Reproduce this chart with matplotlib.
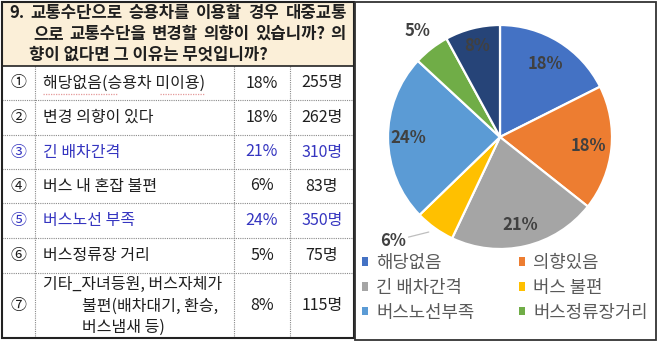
import matplotlib
matplotlib.use('Agg')
import numpy as np
import matplotlib.pyplot as plt
from matplotlib.patches import Rectangle, Patch

plt.rcParams['font.family'] = ['Noto Sans CJK KR', 'DejaVu Sans']

# ---------------- data ----------------
question_lines = ["9. 교통수단으로 승용차를 이용할 경우 대중교통",
                  "으로 교통수단을 변경할 의향이 있습니까? 의",
                  "향이 없다면 그 이유는 무엇입니까?"]
row_nums = ["①", "②", "③", "④", "⑤", "⑥", "⑦"]
row_labels = ["해당없음(승용차 미이용)", "변경 의향이 있다", "긴 배차간격",
              "버스 내 혼잡 불편", "버스노선 부족", "버스정류장 거리",
              ["기타_자녀등원, 버스자체가", "불편(배차대기, 환승,", "버스냄새 등)"]]
row_pcts = ["18%", "18%", "21%", "6%", "24%", "5%", "8%"]
counts = [255, 262, 310, 83, 350, 75, 115]
highlight = [False, False, True, False, True, False, False]

pie_labels = ["해당없음", "의향있음", "긴 배차간격", "버스 불편",
              "버스노선부족", "버스정류장거리", "기타"]
pie_colors = ["#4472C4", "#ED7D31", "#A5A5A5", "#FFC000",
              "#5B9BD5", "#70AD47", "#264478"]

# ---------------- layout (pixels) ----------------
W, H = 658, 342
row_edges = [66, 100, 135, 169, 203, 238, 273, 338]
col_edges = [2, 35, 234, 290, 354]

fig = plt.figure(figsize=(W / 100, H / 100), dpi=100)
fig.patch.set_facecolor('white')
renderer = fig.canvas.get_renderer()

# table axes in pixel coordinates (y downward)
ax = fig.add_axes([0, 0, 1, 1])
ax.set_xlim(0, W)
ax.set_ylim(H, 0)
ax.axis('off')

BLACK = '#1f1f1f'
BLUE = '#3535C0'
FS = 11.5

# header background
ax.add_patch(Rectangle((col_edges[0], 2), col_edges[-1] - col_edges[0], row_edges[0] - 2,
                       facecolor='#FBEFD8', edgecolor='none', zorder=0))
hx = [9, 33, 29]
hright = [347, 346, None]
hy = [13, 34, 55]
for t, x, xr, y in zip(question_lines, hx, hright, hy):
    kw = dict(fontsize=12, fontweight='bold', color=BLACK, ha='left', va='center')
    if xr is None:
        ax.text(x, y, t, **kw)
        continue
    words = t.split(' ')
    objs = [ax.text(x, y, wd, **kw) for wd in words]
    widths = [o.get_window_extent(renderer).width for o in objs]
    gap = (xr - x - sum(widths)) / (len(words) - 1)
    pos = x
    for o, wdt in zip(objs, widths):
        o.set_x(pos)
        pos += wdt + gap

# grid lines (dotted)
dot = dict(color='#8a8a8a', lw=0.8, linestyle=(0, (1, 1)))
for y in row_edges[1:-1]:
    ax.plot([col_edges[0], col_edges[-1]], [y, y], **dot)
for x in col_edges[1:-1]:
    ax.plot([x, x], [row_edges[0], row_edges[-1]], **dot)
ax.plot([col_edges[0], col_edges[-1]], [row_edges[0], row_edges[0]], color='#222222', lw=1.2)
# outer border of table
ax.add_patch(Rectangle((col_edges[0], 2), col_edges[-1] - col_edges[0], row_edges[-1] - 2,
                       facecolor='none', edgecolor='#222222', lw=1.5, zorder=3))

# rows
for i in range(len(row_nums)):
    y0, y1 = row_edges[i], row_edges[i + 1]
    yc = (y0 + y1) / 2
    c = BLUE if highlight[i] else BLACK
    ax.text((col_edges[0] + col_edges[1]) / 2, yc, row_nums[i], fontsize=FS,
            color=c, ha='center', va='center')
    lab = row_labels[i]
    if isinstance(lab, list):
        lys = [284, 306, 327]
        lxs = [43, 82, 82]
        for t, lx, ly in zip(lab, lxs, lys):
            ax.text(lx, ly, t, fontsize=FS, color=c, ha='left', va='center')
    else:
        ax.text(43, yc, lab, fontsize=FS, color=c, ha='left', va='center')
    ax.text((col_edges[2] + col_edges[3]) / 2, yc, row_pcts[i], fontsize=FS,
            color=c, ha='center', va='center')
    ax.text((col_edges[3] + col_edges[4]) / 2, yc, f"{counts[i]}명", fontsize=FS,
            color=c, ha='center', va='center')

# spell-check squiggles in row 1
sq = dict(color='#E59A9A', lw=0.9, linestyle=(0, (1, 1)))
ax.plot([43, 118], [94, 94], **sq)
ax.plot([160, 205], [94, 94], **sq)

# pie frame
ax.add_patch(Rectangle((355, 2), 301, 338, facecolor='none',
                       edgecolor='#333333', lw=1.3, zorder=3))

# ---------------- pie ----------------
axp = fig.add_axes([0, 0, 1, 1])
axp.patch.set_alpha(0)
cx, cy, R = 500, -137, 112
wedges, texts, autotexts = axp.pie(
    counts, colors=pie_colors, startangle=90, counterclock=False,
    center=(cx, cy), radius=R, autopct='%1.0f%%', pctdistance=0.8,
    wedgeprops=dict(edgecolor='white', linewidth=1.6),
    textprops=dict(fontsize=12, fontweight='bold', color='#404040'))
axp.set_aspect('auto')
axp.set_xlim(0, W)
axp.set_ylim(-H, 0)
axp.axis('off')

label_factor = [0.77, 0.79, 0.81, None, 0.82, 1.20, 0.84]
for w, at, f in zip(wedges, autotexts, label_factor):
    ang = np.deg2rad((w.theta1 + w.theta2) / 2)
    if f is None:
        at.set_visible(False)
        ex, ey = cx + R * np.cos(ang), cy + R * np.sin(ang)
        axp.annotate(at.get_text(), xy=(ex - 6, ey - 4), xytext=(-36, -9),
                     textcoords='offset pixels', ha='center', va='center',
                     fontsize=12, fontweight='bold', color='#404040',
                     arrowprops=dict(arrowstyle='-', color='#BFBFBF', lw=0.9,
                                     shrinkA=0, shrinkB=0))
    else:
        at.set_position((cx + R * f * np.cos(ang), cy + R * f * np.sin(ang)))
        at.set_ha('center')
        at.set_va('center')

order = [0, 2, 4, 1, 3, 5]
handles = [Patch(facecolor=pie_colors[k], edgecolor='none') for k in order]
labels = [pie_labels[k] for k in order]
leg = axp.legend(handles, labels, ncol=2, loc='upper left',
                 bbox_to_anchor=(362 / W, 1 - 254 / H), bbox_transform=fig.transFigure,
                 frameon=False, fontsize=12.8, handlelength=0.35, handleheight=0.35,
                 handletextpad=0.45, labelspacing=0.38, columnspacing=2.5,
                 borderpad=0, borderaxespad=0)
for t in leg.get_texts():
    t.set_color('#595959')

fig.savefig('out.png', dpi=100, facecolor='white')
